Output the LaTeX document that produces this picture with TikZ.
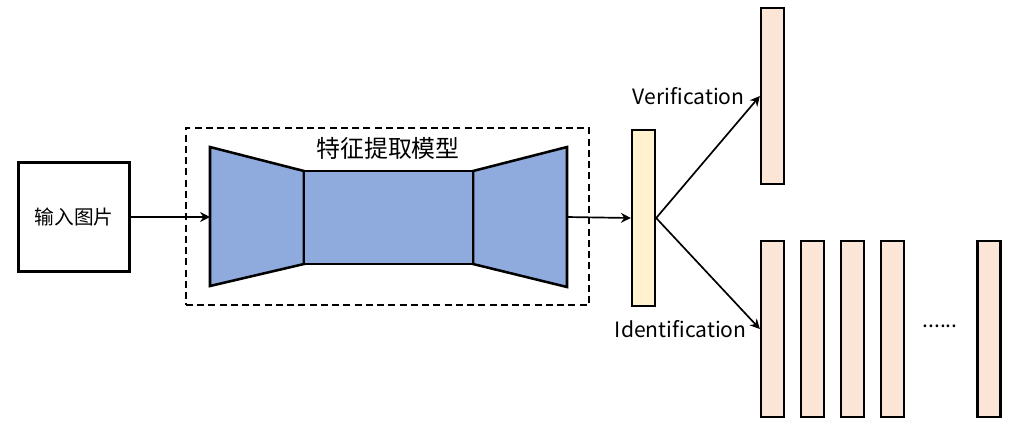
\documentclass[tikz,border=0pt]{standalone}
\usepackage{fontspec}
\setmainfont{Noto Sans CJK SC}
\usepackage{tikz}
\usetikzlibrary{arrows.meta,shapes,calc,positioning}
\definecolor{encblue}{HTML}{8FAADC}
\definecolor{featyellow}{HTML}{FFF2CC}
\definecolor{outpink}{HTML}{FBE5D6}
\tikzset{featbar/.style={draw=black, line width=1.8pt, minimum width=0.57cm, minimum height=4.4cm, inner sep=0pt}}

\begin{document}
\begin{tikzpicture}[x=0.025cm, y=-0.025cm, >={Stealth[length=7pt,width=7pt]}, line width=1.8pt]
   \useasboundingbox (0,0) rectangle (1016,430);
   \node (extr) [draw, line width=1.2pt, dash pattern=on 5pt off 3pt, minimum width=10.075cm, minimum height=4.425cm] at (387.5,216.5) {};
   \begin{scope}[draw=black, fill=encblue, line join=miter]
    \filldraw (210,147) -- (304,171) -- (304,264) -- (210,286) -- cycle;
    \filldraw (567,147) -- (473,171) -- (473,264) -- (567,287) -- cycle;
   \end{scope}
   \begin{scope}[every node/.style={draw=black, inner sep=0pt}]
    \node (img) [minimum width=2.78cm, minimum height=2.73cm, font=\fontsize{14}{16}\selectfont] at (74,217) {输入图片};
    \node (body) [fill=encblue, minimum width=4.225cm, minimum height=2.325cm] at (388.5,217.5) {};
    \node (feat) [featbar, fill=featyellow] at (643.5,218) {};
    \node (ver) [featbar, fill=outpink] at (772.5,96) {};
    \foreach \x/\n in {772.5/1, 812.5/2, 852.5/3, 892.5/4, 989/5}
      \node (id\n) [featbar, fill=outpink] at (\x,329) {};
   \end{scope}
   \coordinate (encin) at (210,217);
   \coordinate (encout) at (567,217);
   \node (title) [font=\fontsize{17}{20}\selectfont] at (388,148) {特征提取模型};
   \node (dots) [font=\fontsize{15}{18}\selectfont] at (940,326) {......};
   \begin{scope}[->, line width=1.2pt]
    \draw (img) -- (encin);
    \draw (encout) -- (feat.west);
    \draw (feat.east) -- (ver.west);
    \draw (feat.east) -- (id1.west);
   \end{scope}
   \node (vlab) [left=0.35cm of ver.west, inner sep=0pt, font=\fontsize{15}{18}\selectfont] {Verification};
   \node (ilab) [left=0.3cm of id1.west, inner sep=0pt, font=\fontsize{15}{18}\selectfont] {Identification};
\end{tikzpicture}
\end{document}
